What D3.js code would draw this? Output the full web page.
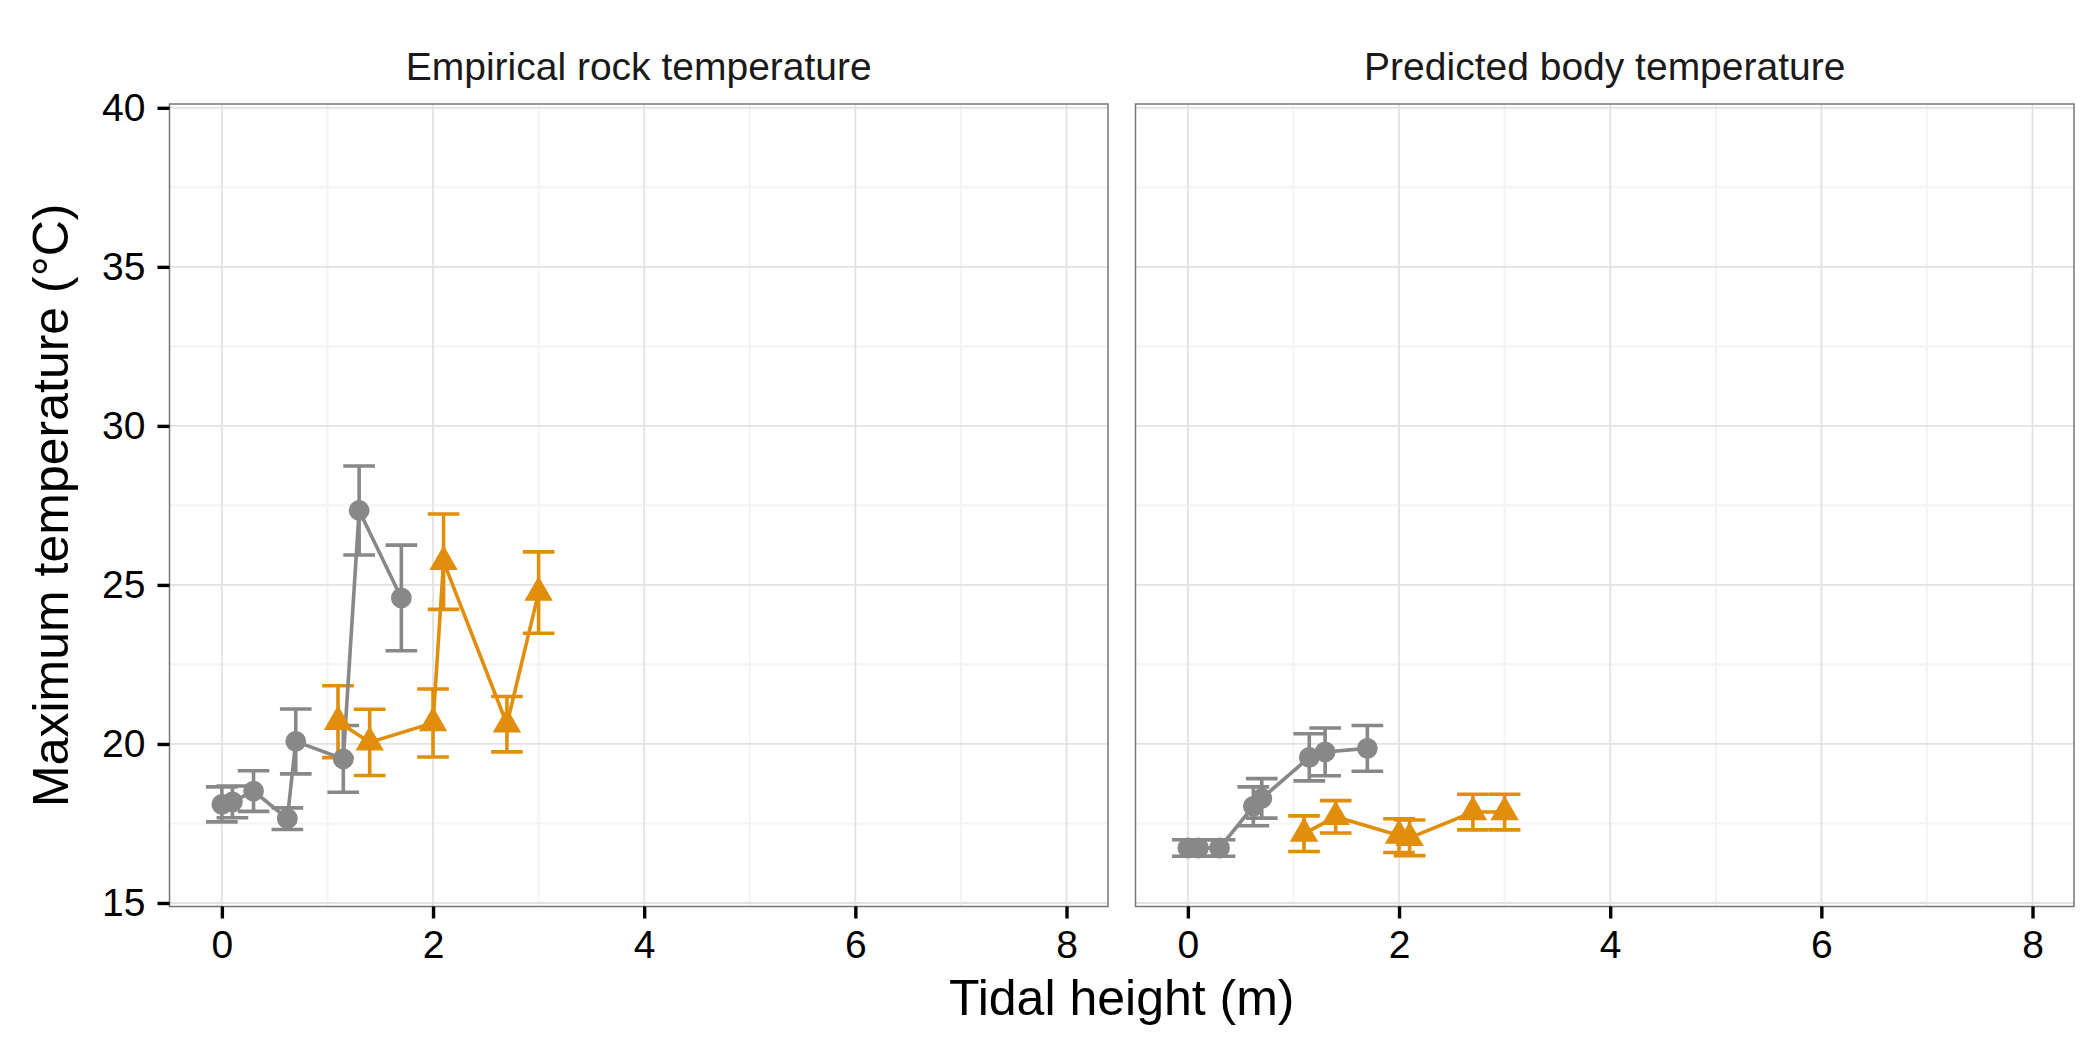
<!DOCTYPE html>
<html>
<head>
<meta charset="utf-8">
<script src="https://cdn.jsdelivr.net/npm/d3@7/dist/d3.min.js"></script>
<style>
  body { margin: 0; background: #fff; }
  text { font-family: "Liberation Sans", Arial, Helvetica, sans-serif; }
</style>
</head>
<body>
<svg id="chart" width="2100" height="1050"></svg>
<script>
// facet titles and axis ticks
const panelTitles = ["Empirical rock temperature", "Predicted body temperature"];
const xTicks = [0, 2, 4, 6, 8];
const xMinor = [1, 3, 5, 7];
const yTicks = [15, 20, 25, 30, 35, 40];
const yMinor = [17.5, 22.5, 27.5, 32.5, 37.5];

// empirical rock temperature, grey circles
const rockGreyX = [0, 0.1, 0.3, 0.62, 0.7, 1.15, 1.3, 1.7];
const rockGreyY = [18.1, 18.18, 18.52, 17.65, 20.08, 19.53, 27.34, 24.59];
const rockGreyErr = [0.55, 0.5, 0.64, 0.34, 1.02, 1.05, 1.4, 1.66];
// empirical rock temperature, orange triangles
const rockOrangeX = [1.1, 1.4, 2.0, 2.1, 2.7, 3.0];
const rockOrangeY = [20.7, 20.05, 20.66, 25.73, 20.62, 24.76];
const rockOrangeErr = [1.13, 1.04, 1.07, 1.5, 0.87, 1.28];

// predicted body temperature, grey circles
const bodyGreyX = [0, 0.1, 0.3, 0.62, 0.7, 1.15, 1.3, 1.7];
const bodyGreyY = [16.73, 16.73, 16.73, 18.04, 18.29, 19.58, 19.75, 19.86];
const bodyGreyErr = [0.26, 0.26, 0.26, 0.61, 0.62, 0.74, 0.75, 0.72];
// predicted body temperature, orange triangles
const bodyOrangeX = [1.1, 1.4, 2.0, 2.1, 2.7, 3.0];
const bodyOrangeY = [17.18, 17.71, 17.12, 17.05, 17.86, 17.86];
const bodyOrangeErr = [0.56, 0.51, 0.53, 0.56, 0.56, 0.56];

const greyCol = "#888888", orangeCol = "#E08E0B";

function zipSeries(xs, ys, es) {
    return xs.map((x, i) => ({x: x, y: ys[i], e: es[i]}));
}

const panels = [
    {title: panelTitles[0], left: 169.5, showY: true,
     series: [
         {shape: "circle", color: greyCol, data: zipSeries(rockGreyX, rockGreyY, rockGreyErr)},
         {shape: "triangle", color: orangeCol, data: zipSeries(rockOrangeX, rockOrangeY, rockOrangeErr)}
     ]},
    {title: panelTitles[1], left: 1135.5, showY: false,
     series: [
         {shape: "circle", color: greyCol, data: zipSeries(bodyGreyX, bodyGreyY, bodyGreyErr)},
         {shape: "triangle", color: orangeCol, data: zipSeries(bodyOrangeX, bodyOrangeY, bodyOrangeErr)}
     ]}
];

const panelW = 938.5, panelTop = 104, panelH = 802.5;
const capWidth = 0.3;
const markW = 3.6;

const svg = d3.select("#chart");
svg.append("rect").attr("width", 2100).attr("height", 1050).attr("fill", "#fff");

const y = d3.scaleLinear().domain([14.89, 40.12]).range([panelTop + panelH, panelTop]);

panels.forEach(p => {
    const x = d3.scaleLinear().domain([-0.496, 8.393]).range([0, panelW]);
    const g = svg.append("g").attr("transform", "translate(" + p.left + ",0)");

    // grid
    g.selectAll(".minor-x").data(xMinor).enter().append("line")
        .attr("x1", d => x(d)).attr("x2", d => x(d)).attr("y1", panelTop).attr("y2", panelTop + panelH)
        .attr("stroke", "#f4f4f4").attr("stroke-width", 2.2);
    g.selectAll(".minor-y").data(yMinor).enter().append("line")
        .attr("x1", 0).attr("x2", panelW).attr("y1", d => y(d)).attr("y2", d => y(d))
        .attr("stroke", "#f4f4f4").attr("stroke-width", 2.2);
    g.selectAll(".major-x").data(xTicks).enter().append("line")
        .attr("x1", d => x(d)).attr("x2", d => x(d)).attr("y1", panelTop).attr("y2", panelTop + panelH)
        .attr("stroke", "#e2e2e2").attr("stroke-width", 1.8);
    g.selectAll(".major-y").data(yTicks).enter().append("line")
        .attr("x1", 0).attr("x2", panelW).attr("y1", d => y(d)).attr("y2", d => y(d))
        .attr("stroke", "#e2e2e2").attr("stroke-width", 1.8);

    // error bars
    p.series.forEach(s => {
        const eb = g.append("g").attr("stroke", s.color).attr("stroke-width", markW).attr("fill", "none");
        s.data.forEach(d => {
            const hi = y(d.y + d.e), lo = y(d.y - d.e);
            const xl = x(d.x - capWidth / 2), xr = x(d.x + capWidth / 2);
            eb.append("path")
                .attr("d", "M" + x(d.x) + "," + hi + "V" + lo
                    + "M" + xl + "," + hi + "H" + xr
                    + "M" + xl + "," + lo + "H" + xr);
        });
    });

    // lines
    const line = d3.line().x(d => x(d.x)).y(d => y(d.y));
    p.series.forEach(s => {
        g.append("path").attr("d", line(s.data))
            .attr("fill", "none").attr("stroke", s.color).attr("stroke-width", markW);
    });

    // points
    p.series.forEach(s => {
        const sym = d3.symbol()
            .type(s.shape === "circle" ? d3.symbolCircle : d3.symbolTriangle)
            .size(s.shape === "circle" ? 340 : 350);
        g.selectAll(null).data(s.data).enter().append("path")
            .attr("d", sym)
            .attr("transform", d => "translate(" + x(d.x) + "," + y(d.y) + ")")
            .attr("fill", s.color);
    });

    // border
    g.append("rect").attr("x", 0).attr("y", panelTop).attr("width", panelW).attr("height", panelH)
        .attr("fill", "none").attr("stroke", "#777").attr("stroke-width", 1.5);

    // x axis
    const xAxis = d3.axisBottom(x).tickValues(xTicks).tickSize(12).tickPadding(12).tickFormat(d3.format("d"));
    const xg = g.append("g").attr("transform", "translate(0," + (panelTop + panelH) + ")").call(xAxis);
    xg.select(".domain").remove();
    xg.selectAll(".tick line").attr("stroke", "#000").attr("stroke-width", 3.4);
    xg.selectAll(".tick text").attr("font-size", 39).attr("fill", "#000")
        .attr("font-family", "Liberation Sans, Arial, sans-serif");

    if (p.showY) {
        const yAxis = d3.axisLeft(y).tickValues(yTicks).tickSize(12).tickPadding(12);
        const yg = g.append("g").call(yAxis);
        yg.select(".domain").remove();
        yg.selectAll(".tick line").attr("stroke", "#000").attr("stroke-width", 3.4);
        yg.selectAll(".tick text").attr("font-size", 39).attr("fill", "#000")
            .attr("font-family", "Liberation Sans, Arial, sans-serif");
    }

    // strip title
    g.append("text").attr("x", panelW / 2).attr("y", 80)
        .attr("text-anchor", "middle").attr("font-size", 39).attr("fill", "#1a1a1a")
        .text(p.title);
});

svg.append("text")
    .attr("x", (169.5 + 2074) / 2).attr("y", 1015)
    .attr("text-anchor", "middle").attr("font-size", 50).attr("fill", "#000")
    .text("Tidal height (m)");

svg.append("text")
    .attr("transform", "translate(68," + (panelTop + panelH / 2) + ") rotate(-90)")
    .attr("text-anchor", "middle").attr("font-size", 50).attr("fill", "#000")
    .text("Maximum temperature (°C)");
</script>
</body>
</html>
